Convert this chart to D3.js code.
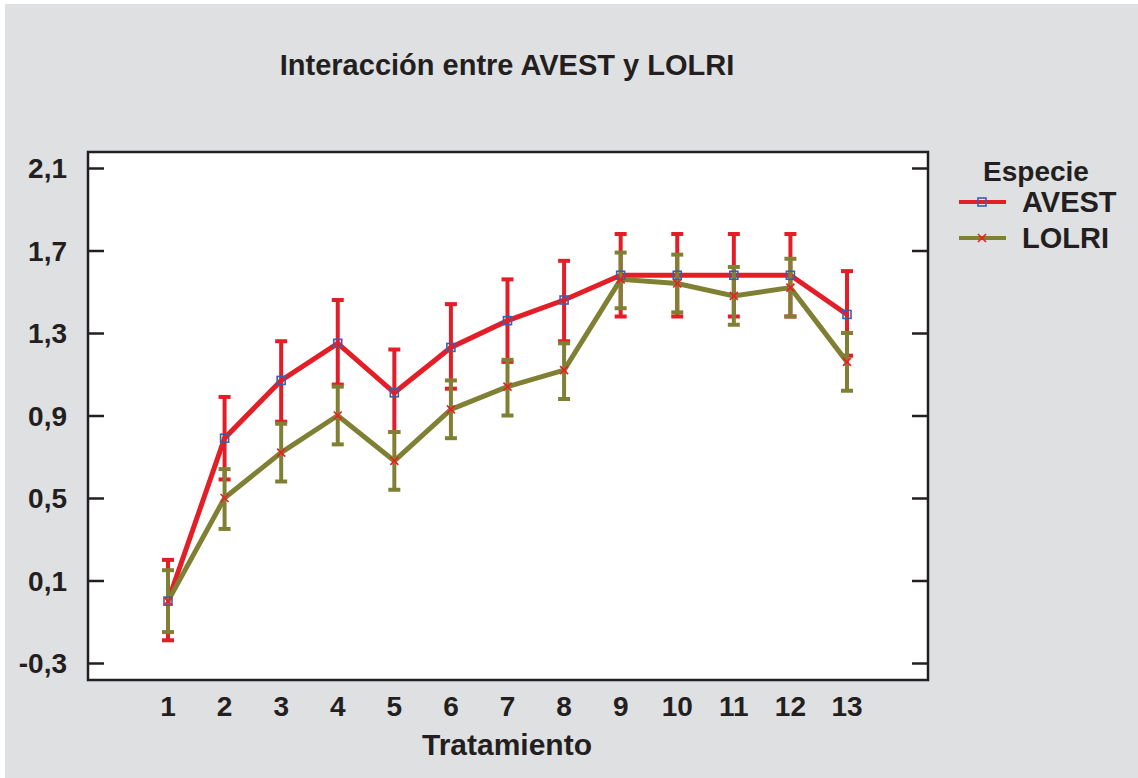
<!DOCTYPE html>
<html>
<head>
<meta charset="utf-8">
<script src="https://cdn.jsdelivr.net/npm/d3@7"></script>
<style>
  body { margin: 0; background: #fff; }
  text { font-family: "Liberation Sans", Arial, sans-serif; font-weight: bold; fill: #231f20; }
</style>
</head>
<body>
<svg width="1138" height="778"></svg>
<script>
// **** data ****
var tratamientos = [1, 2, 3, 4, 5, 6, 7, 8, 9, 10, 11, 12, 13];
var yTicks = [-0.3, 0.1, 0.5, 0.9, 1.3, 1.7, 2.1];

var avestMean  = [0.00, 0.79, 1.07, 1.25, 1.01, 1.23, 1.36, 1.46, 1.58, 1.58, 1.58, 1.58, 1.39];
var avestLow   = [-0.19, 0.59, 0.87, 1.05, 0.82, 1.03, 1.16, 1.26, 1.38, 1.38, 1.38, 1.38, 1.19];
var avestHigh  = [0.20, 0.99, 1.26, 1.46, 1.22, 1.44, 1.56, 1.65, 1.78, 1.78, 1.78, 1.78, 1.60];

var lolriMean  = [0.00, 0.50, 0.72, 0.90, 0.68, 0.93, 1.04, 1.12, 1.56, 1.54, 1.48, 1.52, 1.16];
var lolriLow   = [-0.15, 0.35, 0.58, 0.76, 0.54, 0.79, 0.90, 0.98, 1.42, 1.40, 1.34, 1.38, 1.02];
var lolriHigh  = [0.15, 0.64, 0.86, 1.04, 0.82, 1.07, 1.17, 1.25, 1.69, 1.68, 1.62, 1.66, 1.30];

var series = [
    {name: "AVEST", color: "#e31e26", mean: avestMean, low: avestLow, high: avestHigh, marker: "square"},
    {name: "LOLRI", color: "#7f8034", mean: lolriMean, low: lolriLow, high: lolriHigh, marker: "cross"}
];

// **** scales ****
var plot = {left: 88, right: 928, top: 152, bottom: 680};

var xScale = d3.scaleLinear().domain([1, 13]).range([168, 847]);
var yScale = d3.scaleLinear().domain([-0.3, 2.1]).range([663, 168]);

var svg = d3.select('svg');

// background
svg.append('rect').attr('x', 0).attr('y', 0).attr('width', 1138).attr('height', 778).attr('fill', '#ffffff');
svg.append('rect').attr('x', 5).attr('y', 4).attr('width', 1133).attr('height', 774).attr('fill', '#dfe0e2');

// plot area
svg.append('rect')
    .attr('x', plot.left).attr('y', plot.top)
    .attr('width', plot.right - plot.left).attr('height', plot.bottom - plot.top)
    .attr('fill', '#ffffff');

// y axis on the left, ticks pointing in
svg.append('g').attr('class', 'y axis')
    .attr('transform', 'translate(' + plot.left + ',0)')
    .call(d3.axisRight(yScale).tickValues(yTicks).tickSize(16).tickFormat(''))
    .call(function(g) { g.select('.domain').remove(); })
    .selectAll('line').attr('stroke', '#231f20').attr('stroke-width', 2.5);

// mirror ticks on the right side
svg.append('g').attr('class', 'y axis right')
    .attr('transform', 'translate(' + plot.right + ',0)')
    .call(d3.axisLeft(yScale).tickValues(yTicks).tickSize(16).tickFormat(''))
    .call(function(g) { g.select('.domain').remove(); })
    .selectAll('line').attr('stroke', '#231f20').attr('stroke-width', 2.5);

// y tick labels
svg.append('g').selectAll('text')
    .data(yTicks)
    .enter()
    .append('text')
    .attr('x', 67)
    .attr('y', function(d) { return yScale(d); })
    .attr('dy', '0.36em')
    .attr('text-anchor', 'end')
    .attr('font-size', 28)
    .text(function(d) { return d3.format('.1f')(d).replace('.', ',').replace('−', '-'); });

// x tick labels
svg.append('g').selectAll('text')
    .data(tratamientos)
    .enter()
    .append('text')
    .attr('x', function(d) { return xScale(d); })
    .attr('y', 716)
    .attr('text-anchor', 'middle')
    .attr('font-size', 28)
    .text(function(d) { return d; });

// frame
svg.append('rect')
    .attr('x', plot.left).attr('y', plot.top)
    .attr('width', plot.right - plot.left).attr('height', plot.bottom - plot.top)
    .attr('fill', 'none').attr('stroke', '#231f20').attr('stroke-width', 2.5);

// **** series ****
var line = d3.line()
    .x(function(d) { return xScale(d.x); })
    .y(function(d) { return yScale(d.y); });

series.forEach(function(s) {
    var pts = tratamientos.map(function(t, i) {
        return {x: t, y: s.mean[i], lo: s.low[i], hi: s.high[i]};
    });
    var g = svg.append('g');

    g.selectAll('line.bar').data(pts).enter().append('line')
        .attr('x1', function(d) { return xScale(d.x); })
        .attr('x2', function(d) { return xScale(d.x); })
        .attr('y1', function(d) { return yScale(d.lo); })
        .attr('y2', function(d) { return yScale(d.hi); })
        .attr('stroke', s.color).attr('stroke-width', 4);

    ['lo', 'hi'].forEach(function(k) {
        g.selectAll('line.cap' + k).data(pts).enter().append('line')
            .attr('x1', function(d) { return xScale(d.x) - 6; })
            .attr('x2', function(d) { return xScale(d.x) + 6; })
            .attr('y1', function(d) { return yScale(d[k]); })
            .attr('y2', function(d) { return yScale(d[k]); })
            .attr('stroke', s.color).attr('stroke-width', 4);
    });

    g.append('path')
        .datum(pts)
        .attr('d', line)
        .attr('fill', 'none')
        .attr('stroke', s.color)
        .attr('stroke-width', 5)
        .attr('stroke-linejoin', 'miter');
});

// markers on top
function drawMarker(g, type, cx, cy) {
    if (type == "square") {
        g.append('rect')
            .attr('x', cx - 4).attr('y', cy - 4)
            .attr('width', 8).attr('height', 8)
            .attr('fill', 'none').attr('stroke', '#3a5fb0').attr('stroke-width', 1.6);
    } else {
        g.append('path')
            .attr('d', 'M' + (cx - 4) + ',' + (cy - 4) + 'L' + (cx + 4) + ',' + (cy + 4) +
                       'M' + (cx - 4) + ',' + (cy + 4) + 'L' + (cx + 4) + ',' + (cy - 4))
            .attr('stroke', '#ee1c25').attr('stroke-width', 1.6);
    }
}

series.forEach(function(s) {
    var g = svg.append('g');
    tratamientos.forEach(function(t, i) {
        drawMarker(g, s.marker, xScale(t), yScale(s.mean[i]));
    });
});

// **** titles and legend ****
svg.append('text')
    .attr('x', 507).attr('y', 75)
    .attr('text-anchor', 'middle')
    .attr('font-size', 29)
    .text('Interacción entre AVEST y LOLRI');

svg.append('text')
    .attr('x', 507).attr('y', 755)
    .attr('text-anchor', 'middle')
    .attr('font-size', 30)
    .text('Tratamiento');

svg.append('text')
    .attr('x', 1036).attr('y', 181)
    .attr('text-anchor', 'middle')
    .attr('font-size', 28)
    .text('Especie');

var legend = svg.append('g').selectAll('g')
    .data(series)
    .enter()
    .append('g')
    .attr('transform', function(d, i) { return 'translate(0,' + (202 + i * 36) + ')'; });

legend.append('line')
    .attr('x1', 959).attr('x2', 1006)
    .attr('y1', 0).attr('y2', 0)
    .attr('stroke', function(d) { return d.color; })
    .attr('stroke-width', 4);

legend.each(function(d) { drawMarker(d3.select(this), d.marker, 982, 0); });

legend.append('text')
    .attr('x', 1022).attr('y', 0)
    .attr('dy', '0.36em')
    .attr('font-size', 29)
    .text(function(d) { return d.name; });
</script>
</body>
</html>
